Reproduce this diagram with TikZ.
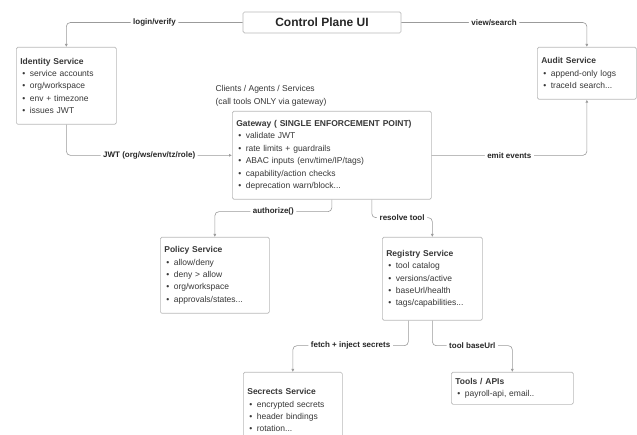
\documentclass[tikz,border=0pt]{standalone}
\usepackage{fontspec}
\setmainfont{Liberation Sans}
\usepackage{tikz}
\usetikzlibrary{arrows.meta,positioning,calc}
\definecolor{linegray}{RGB}{155,155,155}
\definecolor{boxgray}{RGB}{185,185,185}
\definecolor{txtgray}{RGB}{55,55,55}
\tikzset{
	svc/.style  = {rectangle,rounded corners=1.5pt,draw=boxgray,fill=white,
		line width=0.7pt,anchor=north west,align=left,inner xsep=4pt,
		font=\fontsize{8.5}{12.4}\selectfont,text=txtgray},
	uibox/.style = {rectangle,rounded corners=1.5pt,draw=boxgray,fill=white,
		line width=0.7pt,minimum width=158pt,minimum height=21pt,
		font=\fontsize{12}{14}\selectfont\bfseries,text=black!85},
	lbl/.style  = {fill=white,inner sep=2.5pt,
		font=\fontsize{8}{10}\selectfont\bfseries,text=black!85},
	note/.style = {align=left,anchor=north west,
		font=\fontsize{8.5}{12.4}\selectfont,text=txtgray},
	arr/.style  = {-{Latex[length=3pt,width=3pt]},line width=0.6pt,
		draw=linegray,rounded corners=4pt},
}
\newcommand{\itm}[1]{\\\hspace*{2pt}\textbullet\hspace{4.5pt}#1}

\begin{document}
\begin{tikzpicture}[x=1pt,y=-1pt]
	\useasboundingbox (0,0) rectangle (637,435);
	\clip (0,0) rectangle (637,435);
	\fill[white] (0,0) rectangle (637,435);
	
	\node (ui) [uibox] at (322,22.5) {Control Plane UI};
	\node (idn) [svc,text width=92pt,minimum height=77pt] at (16,47)
	{\textbf{Identity Service}\itm{service accounts}\itm{org/workspace}\itm{env + timezone}\itm{issues JWT}};
	\node (aud) [svc,text width=91pt,minimum height=52pt] at (537,47)
	{\textbf{Audit Service}\itm{append-only logs}\itm{traceId search...}};
	\node (cli) [note] at (212,82)
	{Clients / Agents / Services\\(call tools ONLY via gateway)};
	\node (gw) [svc,text width=191pt,minimum height=88pt] at (232,111)
	{\textbf{Gateway ( SINGLE ENFORCEMENT POINT)}\itm{validate JWT}\itm{rate limits + guardrails}\itm{ABAC inputs (env/time/IP/tags)}\itm{capability/action checks}\itm{deprecation warn/block...}};
	\node (pol) [svc,text width=101pt,minimum height=76pt] at (160,237)
	{\textbf{Policy Service}\itm{allow/deny}\itm{deny > allow}\itm{org/workspace}\itm{approvals/states...}};
	\node (reg) [svc,text width=92pt,minimum height=83pt] at (382,237)
	{\textbf{Registry Service}\itm{tool catalog}\itm{versions/active}\itm{baseUrl/health}\itm{tags/capabilities...}};
	\node (sec) [svc,text width=91pt,minimum height=76pt] at (243,372)
	{\textbf{Secrects Service}\itm{encrypted secrets}\itm{header bindings}\itm{rotation...}};
	\node (tls) [svc,text width=114pt,minimum height=32pt] at (451,372)
	{\textbf{Tools / APIs}\itm{payroll-api, email..}};
	
	\draw[arr] (ui.west) -| node[lbl,pos=0.25]{login/verify} (idn.north);
	\draw[arr] (ui.east) -| node[lbl,pos=0.25]{view/search} (aud.north);
	\draw[arr] (idn.south) |- node[lbl,pos=0.75]{JWT (org/ws/env/tz/role)} (gw.west);
	\draw[arr] (gw.east) -| node[lbl,pos=0.25]{emit events} (aud.south);
	\draw[arr] (gw.south) -- ++(0,12) -| node[lbl,pos=0.25]{authorize()} (pol.north);
	\draw[arr] ([xshift=40pt]gw.south) -- ++(0,18) -| node[lbl,pos=0.25]{resolve tool} (reg.north);
	\draw[arr] ([xshift=-24pt]reg.south) -- ++(0,25) -| node[lbl,pos=0.25]{fetch + inject secrets} (sec.north);
	\draw[arr] (reg.south) -- ++(0,25) -| node[lbl,pos=0.25]{tool baseUrl} (tls.north);
\end{tikzpicture}
\end{document}
